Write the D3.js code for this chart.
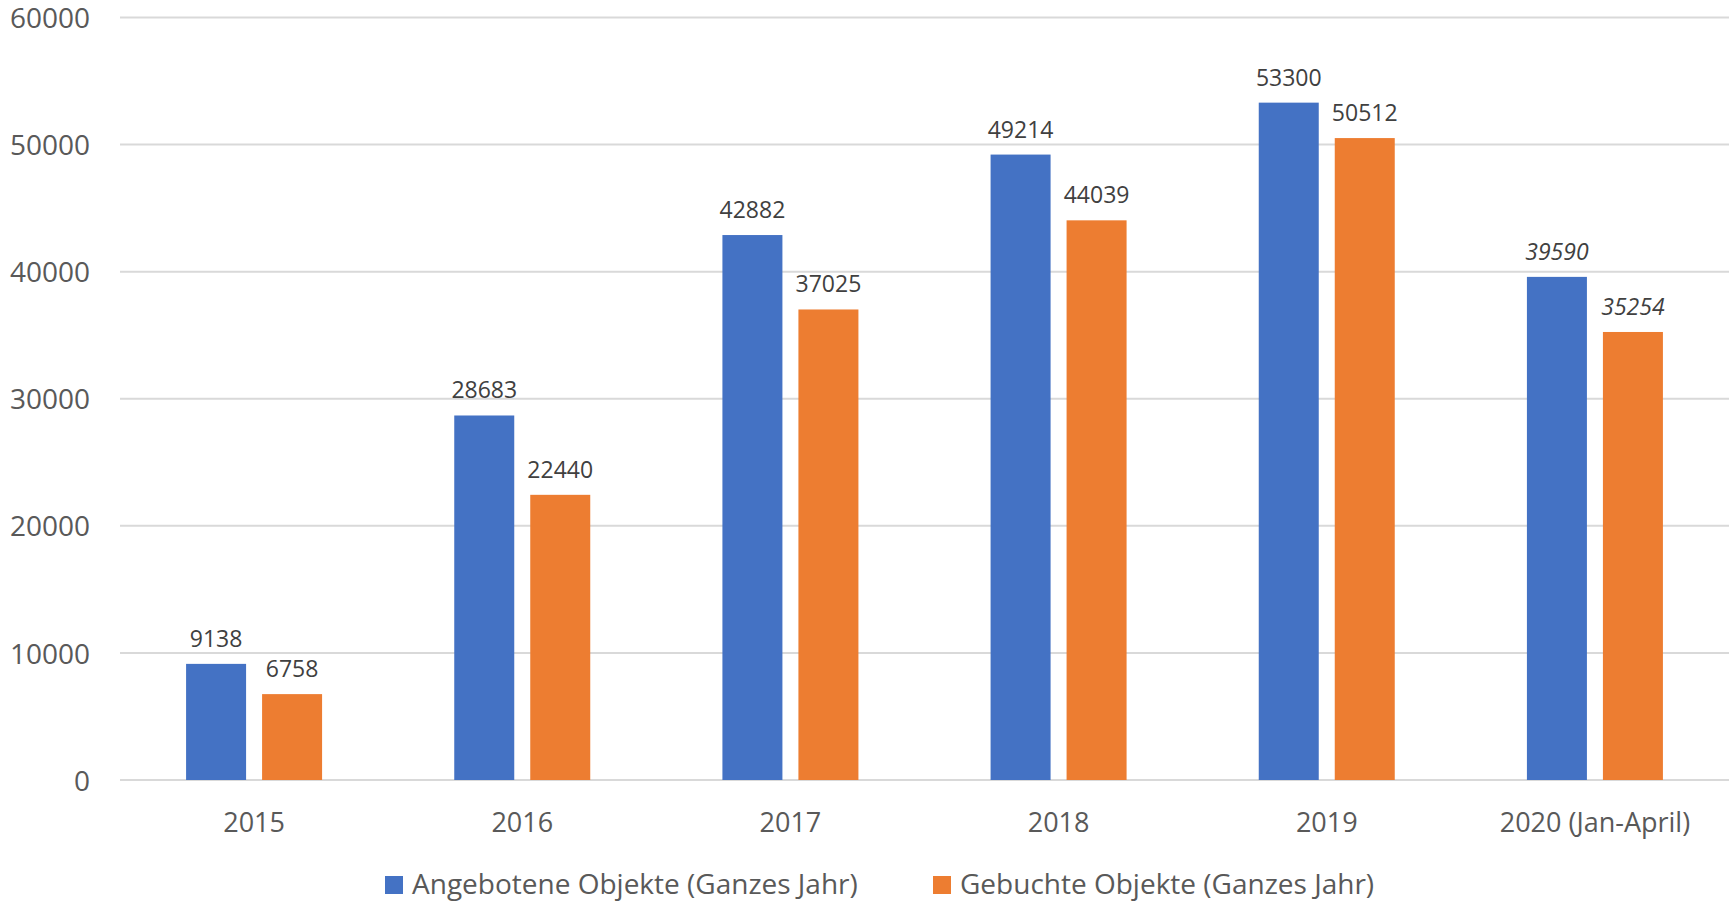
<!DOCTYPE html>
<html>
<head>
<meta charset="utf-8">
<script src="https://cdn.jsdelivr.net/npm/d3@7"></script>
<style>
  body { margin: 0; background: #fff; }
  svg { display: block; font-family: "Open Sans", sans-serif; }
</style>
</head>
<body>
<div id="chart"></div>
<script>
const categories = ["2015", "2016", "2017", "2018", "2019", "2020 (Jan-April)"];
const seriesNames = ["Angebotene Objekte (Ganzes Jahr)", "Gebuchte Objekte (Ganzes Jahr)"];
const angeboten = [9138, 28683, 42882, 49214, 53300, 39590];
const gebucht = [6758, 22440, 37025, 44039, 50512, 35254];
const yTicks = [0, 10000, 20000, 30000, 40000, 50000, 60000];
const colors = ["#4472C4", "#ED7D31"];

const width = 1729, height = 901;
const margin = { top: 17.5, right: 0, bottom: 121, left: 120 };

const svg = d3.select("#chart")
    .append("svg")
    .attr("width", width)
    .attr("height", height);

const x = d3.scaleBand()
    .domain(categories)
    .range([margin.left, width - margin.right]);

const y = d3.scaleLinear()
    .domain([0, 60000])
    .range([height - margin.bottom, margin.top]);

const barW = 60, gap = 16;
const xSeries = d3.scaleOrdinal()
    .domain([0, 1])
    .range([-(barW + gap / 2), gap / 2]);

// gridlines
svg.append("g")
    .selectAll("line")
    .data(yTicks)
    .join("line")
    .attr("x1", margin.left)
    .attr("x2", width - margin.right)
    .attr("y1", d => y(d))
    .attr("y2", d => y(d))
    .attr("stroke", "#d9d9d9")
    .attr("stroke-width", 2);

// y axis labels
const yAxis = svg.append("g")
    .attr("transform", `translate(${margin.left},0)`)
    .call(d3.axisLeft(y).tickValues(yTicks).tickSize(0).tickPadding(30).tickFormat(d3.format("d")));
yAxis.select(".domain").remove();
yAxis.selectAll("text")
    .attr("fill", "#595959")
    .attr("dy", "0.36em")
    .style("font-size", "28px")
    .style("font-family", "Open Sans, sans-serif");

// x axis labels
const xAxis = svg.append("g")
    .attr("transform", `translate(0,${y(0)})`)
    .call(d3.axisBottom(x).tickSize(0).tickPadding(33));
xAxis.select(".domain").remove();
xAxis.selectAll("text")
    .attr("fill", "#595959")
    .style("font-size", "27px")
    .style("font-family", "Open Sans, sans-serif");

const rows = categories.map((c, i) => ({ cat: c, vals: [angeboten[i], gebucht[i]] }));

const groups = svg.append("g")
    .selectAll("g")
    .data(rows)
    .join("g")
    .attr("transform", d => `translate(${x(d.cat) + x.bandwidth() / 2},0)`);

const cells = groups.selectAll("g")
    .data((d, i) => d.vals.map((v, s) => ({ v, s, italic: i === categories.length - 1 })))
    .join("g");

cells.append("rect")
    .attr("x", d => xSeries(d.s))
    .attr("width", barW)
    .attr("y", d => y(d.v))
    .attr("height", d => y(0) - y(d.v))
    .attr("fill", d => colors[d.s]);

cells.append("text")
    .attr("x", d => xSeries(d.s) + barW / 2)
    .attr("y", d => y(d.v) - 17)
    .attr("text-anchor", "middle")
    .attr("fill", "#404040")
    .style("font-size", "23px")
    .style("font-style", d => d.italic ? "italic" : "normal")
    .text(d => d.v);

// legend
const legendX = [385, 933];
const legend = svg.append("g")
    .selectAll("g")
    .data(seriesNames)
    .join("g")
    .attr("transform", (d, i) => `translate(${legendX[i]},876)`);

legend.append("rect")
    .attr("width", 18)
    .attr("height", 18)
    .attr("fill", (d, i) => colors[i]);

legend.append("text")
    .attr("x", 27)
    .attr("y", 18)
    .attr("fill", "#595959")
    .style("font-size", "28px")
    .text(d => d);
</script>
</body>
</html>
